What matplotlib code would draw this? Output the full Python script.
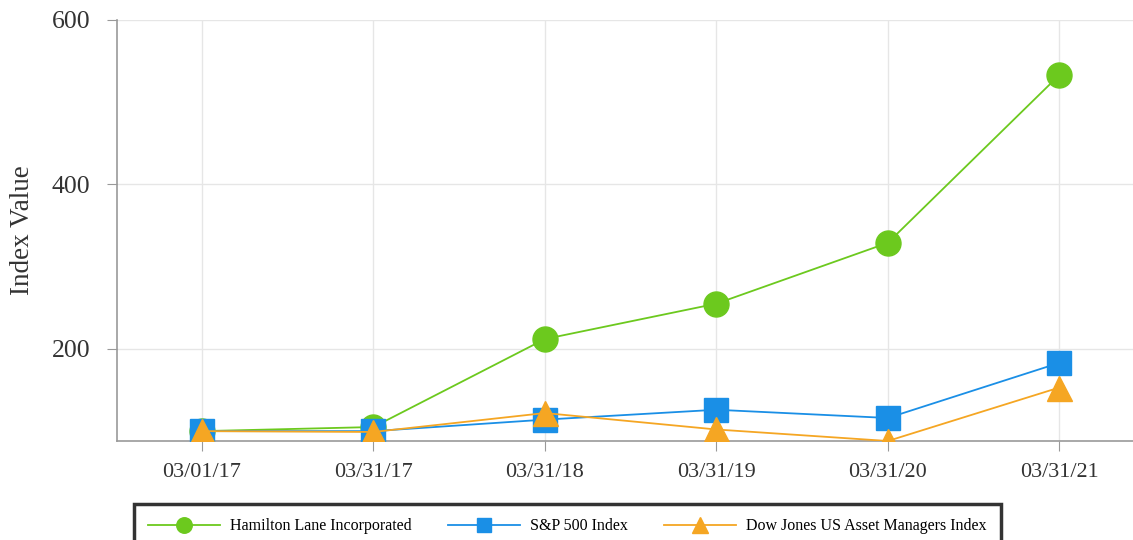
import matplotlib
matplotlib.use("Agg")
import matplotlib.pyplot as plt

# data
dates = ["03/01/17", "03/31/17", "03/31/18", "03/31/19", "03/31/20", "03/31/21"]
hamilton = [100, 105, 212, 255, 329, 533]
sp500 = [100, 100, 114, 126, 116, 183]
dowjones = [100, 99, 122, 102, 88, 153]
yticks = [200, 400, 600]

plt.rcParams['font.family'] = ['Liberation Serif', 'DejaVu Serif']

fig = plt.figure(figsize=(11.33, 5.4), dpi=100)
ax = fig.add_axes([117/1133, 1 - 441/540, (1133 - 117)/1133, (441 - 20)/540])

x = list(range(len(dates)))
ax.plot(x, hamilton, color="#6cc91e", lw=1.3, marker="o", ms=18, mec="#6cc91e",
        label="Hamilton Lane Incorporated", zorder=3)
ax.plot(x, sp500, color="#1a8fe6", lw=1.3, marker="s", ms=17, mec="#1a8fe6",
        label="S&P 500 Index", zorder=4)
ax.plot(x, dowjones, color="#f5a623", lw=1.3, marker="^", ms=18, mec="#f5a623",
        label="Dow Jones US Asset Managers Index", zorder=5)

ax.set_xlim(-0.496, 5.43)
ax.set_ylim(88, 600)
ax.set_xticks(x)
ax.set_xticklabels(dates)
ax.set_yticks(yticks)
ax.tick_params(colors="#333333", length=7, color="#999999")
ax.tick_params(axis="x", labelsize=16, pad=9)
ax.tick_params(axis="y", labelsize=18.5, pad=12)
ax.grid(True, color="#e6e6e6", lw=1)
ax.set_axisbelow(True)
for s in ["top", "right"]:
    ax.spines[s].set_visible(False)
for s in ["left", "bottom"]:
    ax.spines[s].set_color("#999999")
    ax.spines[s].set_linewidth(1.2)
ax.set_ylabel("Index Value", fontsize=19.5, color="#333333", labelpad=12)

leg = fig.legend(loc="upper left", bbox_to_anchor=(134/1133, 1 - 504/540),
                 ncol=3, fontsize=11.5, markerscale=0.62, handlelength=4.5,
                 handletextpad=0.6, columnspacing=2.3,
                 frameon=True, fancybox=False, borderpad=0.9, borderaxespad=0)
leg.get_frame().set_edgecolor("black")
leg.get_frame().set_linewidth(2.5)

fig.savefig("out.png", dpi=100)
